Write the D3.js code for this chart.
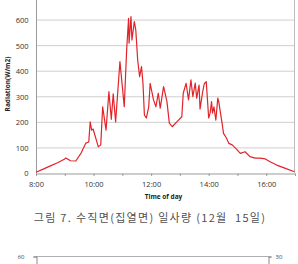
<!DOCTYPE html>
<html>
<head>
<meta charset="utf-8">
<script src="https://cdn.jsdelivr.net/npm/d3@7"></script>
<style>
  body { margin: 0; background: #fff; }
  svg { display: block; }
</style>
</head>
<body>
<div id="chart"></div>
<script>
// time of day (hh:mm) and vertical-surface radiation (W/m2)
const times = [
  "8:00", "8:15", "8:30", "8:45", "9:00", "9:02", "9:12", "9:23", "9:34", "9:44",
  "9:50", "9:53", "9:56", "9:59", "10:10", "10:15", "10:19", "10:22", "10:26", "10:32",
  "10:37", "10:41", "10:46", "10:55", "10:58", "11:00", "11:04", "11:09", "11:13", "11:14",
  "11:18", "11:20", "11:25", "11:28", "11:32", "11:36", "11:40", "11:43", "11:46", "11:50",
  "11:55", "11:58", "12:05", "12:10", "12:15", "12:19", "12:26", "12:29", "12:33", "12:38",
  "12:44", "12:54", "13:04", "13:07", "13:13", "13:18", "13:23", "13:27", "13:32", "13:35",
  "13:40", "13:42", "13:47", "13:51", "13:55", "13:57", "14:00", "14:03", "14:06", "14:08",
  "14:11", "14:15", "14:19", "14:21", "14:28", "14:31", "14:37", "14:42", "14:49", "14:56",
  "15:06", "15:16", "15:26", "15:37", "15:47", "15:58", "16:08", "16:22", "16:40", "16:59"
];
const radiation = [
  3, 15, 28, 40, 55, 59, 48, 47, 78, 117,
  121, 200, 168, 172, 102, 110, 259, 220, 168, 318,
  210, 310, 200, 436, 377, 338, 259, 481, 605, 508,
  612, 520, 592, 560, 442, 377, 416, 352, 227, 215,
  259, 351, 286, 259, 312, 254, 338, 313, 279, 195,
  181, 201, 220, 312, 351, 286, 364, 299, 352, 293,
  344, 250, 312, 350, 357, 300, 215, 234, 279, 234,
  259, 207, 293, 279, 194, 155, 137, 116, 110, 97,
  77, 83, 64, 58, 58, 55, 44, 31, 18, 5
];
const yTicks = [0, 100, 200, 300, 400, 500, 600];
const xLabelTicks = ["8:00", "10:00", "12:00", "14:00", "16:00"];
const caption = "그림 7. 수직면(집열면) 일사량 (12월  15일)";
// the next figure, only its top edge shows
const nextLeftTicks = [60];
const nextRightTicks = [30];

const width = 298, height = 264;
const parse = d3.timeParse("%H:%M");
const data = times.map((t, i) => ({ t: parse(t), v: radiation[i] }));

const svg = d3.select("#chart").append("svg")
  .attr("width", width)
  .attr("height", height);

const x = d3.scaleTime()
  .domain([parse("8:00"), parse("17:00")])
  .range([36, 295]);

const y = d3.scaleLinear()
  .domain([0, 700])
  .range([173, -6]);

const tickFont = "'Open Sans', 'Liberation Sans', sans-serif";

// gridlines
svg.append("g")
  .selectAll("line")
  .data(yTicks.filter(d => d > 0))
  .join("line")
  .attr("x1", x.range()[0])
  .attr("x2", x.range()[1])
  .attr("y1", d => y(d) + 0.5)
  .attr("y2", d => y(d) + 0.5)
  .attr("stroke", "#cfcfcf")
  .attr("stroke-width", 1);

// right border of plot
svg.append("line")
  .attr("x1", x.range()[1] - 0.5).attr("x2", x.range()[1] - 0.5)
  .attr("y1", 0).attr("y2", y(0))
  .attr("stroke", "#bdbdbd");

// y axis
const yAxis = svg.append("g")
  .attr("transform", `translate(${x.range()[0] + 0.5},0.5)`)
  .call(d3.axisLeft(y).tickValues(yTicks).tickSize(0).tickPadding(8));
yAxis.select(".domain").attr("stroke", "#9a9a9a").attr("d", `M0,${y(0)}V-10`);
yAxis.selectAll("text")
  .attr("font-family", tickFont)
  .attr("font-size", 7.5)
  .attr("fill", "#333");

// x axis
const xAxis = svg.append("g")
  .attr("transform", `translate(0,${y(0) + 0.5})`)
  .call(d3.axisBottom(x)
    .ticks(d3.timeHour.every(1))
    .tickSize(2.5)
    .tickPadding(6)
    .tickFormat(d => {
      const s = d3.timeFormat("%-H:%M")(d);
      return xLabelTicks.includes(s) ? s : "";
    }));
xAxis.select(".domain").attr("stroke", "#9a9a9a");
xAxis.selectAll(".tick line").attr("stroke", "#9a9a9a");
xAxis.selectAll("text")
  .attr("font-family", tickFont)
  .attr("font-size", 7.5)
  .attr("fill", "#333");

// radiation line
svg.append("path")
  .datum(data)
  .attr("fill", "none")
  .attr("stroke", "#e3232a")
  .attr("stroke-width", 1.2)
  .attr("stroke-linejoin", "round")
  .attr("d", d3.line().x(d => x(d.t)).y(d => y(d.v)));

// axis titles
svg.append("text")
  .attr("x", (x.range()[0] + x.range()[1]) / 2 - 2)
  .attr("y", 199)
  .attr("text-anchor", "middle")
  .attr("font-family", tickFont)
  .attr("font-weight", "bold")
  .attr("font-size", 6.5)
  .attr("fill", "#222")
  .text("Time of day");

svg.append("text")
  .attr("transform", "translate(10,84) rotate(-90)")
  .attr("text-anchor", "middle")
  .attr("font-family", tickFont)
  .attr("font-weight", "bold")
  .attr("font-size", 6.5)
  .attr("fill", "#222")
  .text("Radiation(W/m2)");

// caption
svg.append("text")
  .attr("x", 150)
  .attr("y", 222)
  .attr("text-anchor", "middle")
  .attr("font-family", "'Noto Sans CJK KR', sans-serif")
  .attr("font-size", 11)
  .attr("letter-spacing", 1.3)
  .attr("fill", "#505050")
  .style("white-space", "pre")
  .text(caption);

// top edge of the next figure
const y2 = d3.scaleLinear().domain([0, 60]).range([400, 256]);
const y2r = d3.scaleLinear().domain([0, 30]).range([400, 256]);

svg.append("line")
  .attr("x1", 36).attr("x2", 269)
  .attr("y1", y2(60) + 0.5).attr("y2", y2(60) + 0.5)
  .attr("stroke", "#b0b0b0");

const left2 = svg.append("g")
  .attr("transform", "translate(36.5,0.5)")
  .call(d3.axisLeft(y2).tickValues(nextLeftTicks).tickSize(3).tickPadding(9));
const right2 = svg.append("g")
  .attr("transform", "translate(268.5,0.5)")
  .call(d3.axisRight(y2r).tickValues(nextRightTicks).tickSize(3).tickPadding(4));
[left2, right2].forEach(g => {
  g.select(".domain").attr("stroke", "#888");
  g.selectAll(".tick line").attr("stroke", "#888");
  g.selectAll("text")
    .attr("font-family", tickFont)
    .attr("font-size", 6)
    .attr("fill", "#444");
});
</script>
</body>
</html>
